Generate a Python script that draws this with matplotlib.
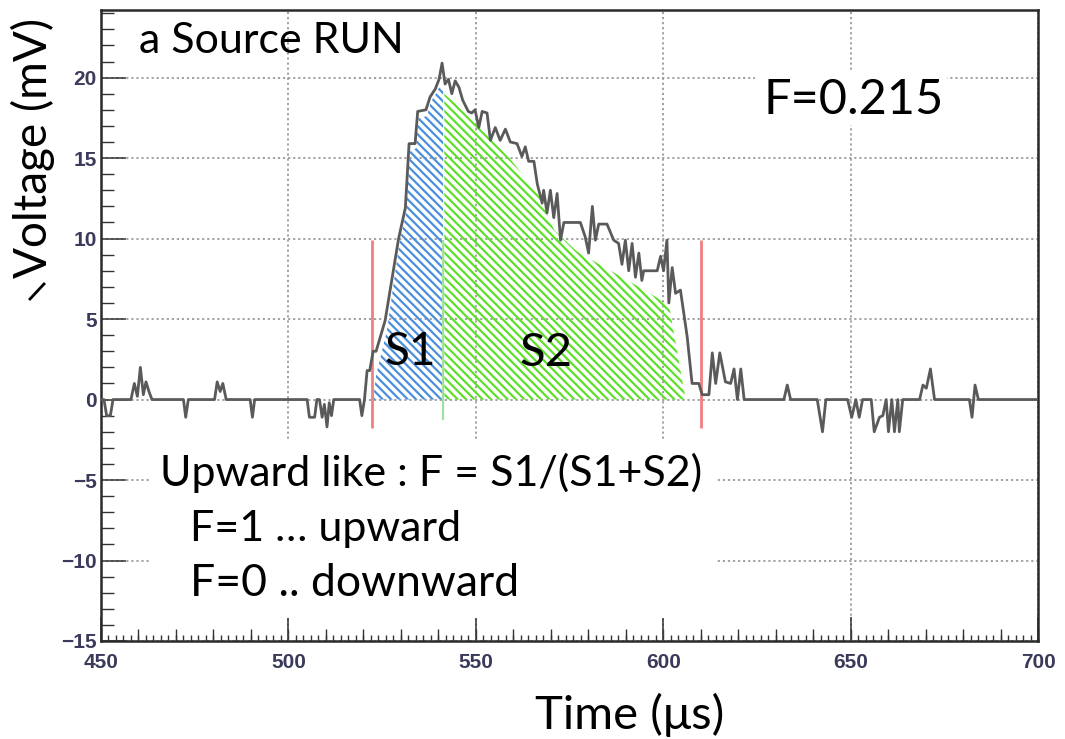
import matplotlib
matplotlib.use("Agg")
import matplotlib.pyplot as plt
from matplotlib.patches import Rectangle
from matplotlib.lines import Line2D
from matplotlib.ticker import MultipleLocator

plt.rcParams['hatch.linewidth'] = 1.6

# waveform (time in us, voltage in mV)
tempo = [450.0, 450.8, 451.5, 452.5, 453.2, 458.0, 458.9, 459.7, 460.5, 461.3,
         462.0, 462.8, 463.6, 472.0, 472.6, 473.3, 480.3, 481.0, 481.8, 482.5,
         483.4, 489.8, 490.4, 491.0, 505.0, 505.6, 507.0, 507.6, 508.3, 509.0,
         509.6, 510.3, 510.9, 511.5, 512.1, 519.0, 519.6, 520.3, 521.0, 521.7,
         522.6, 523.4, 525.8, 529.4, 531.2, 532.2, 533.8, 534.5, 536.7, 537.8,
         539.2, 540.2, 541.0, 541.8, 542.7, 543.6, 544.5, 545.5, 546.5, 548.0,
         548.9, 549.8, 550.8, 551.7, 553.0, 553.9, 555.2, 556.5, 557.9, 559.2,
         561.0, 562.3, 563.2, 564.1, 565.5, 566.4, 567.7, 568.1, 569.0, 569.9,
         570.8, 571.7, 572.6, 573.5, 577.9, 579.2, 580.1, 581.1, 581.9, 582.8,
         585.0, 586.8, 588.1, 589.0, 589.9, 590.8, 591.7, 592.6, 593.5, 594.3,
         594.8, 598.4, 599.3, 600.1, 601.0, 601.5, 602.4, 603.3, 604.6, 606.4,
         607.7, 609.5, 610.4, 612.2, 613.1, 614.0, 615.1, 616.6, 618.0, 618.9,
         619.8, 620.7, 621.6, 632.2, 633.1, 634.0, 641.1, 642.5, 643.4, 649.2,
         650.3, 651.4, 652.3, 653.2, 655.5, 656.3, 657.7, 658.6, 659.5, 660.1,
         661.0, 661.7, 662.6, 663.0, 663.9, 668.4, 669.3, 670.2, 671.3, 672.4,
         681.7, 682.4, 683.2, 684.1, 700.0]
tensao = [0, 0, -1.0, -1.0, 0, 0, 1.0, 0.2, 2.0, 0.3,
          1.1, 0.5, 0, 0, -1.1, 0, 0, 1.1, 0.5, 1.0,
          0, 0, -1.1, 0, 0, -1.1, -1.1, 0, 0, -1.1,
          -0.3, -1.7, -0.2, -1.0, 0, 0, -1.0, 0, 1.8, 1.8,
          3.0, 3.0, 4.9, 10.0, 11.9, 15.9, 15.9, 17.9, 18.0, 18.8,
          19.3, 19.9, 20.9, 19.6, 19.9, 19.0, 19.8, 19.4, 18.6, 17.9,
          17.8, 18.0, 16.9, 17.9, 17.8, 16.1, 16.9, 16.1, 16.8, 16.0,
          15.9, 15.1, 15.7, 14.8, 14.8, 13.4, 12.2, 13.0, 11.6, 13.0,
          11.3, 12.8, 9.9, 11.0, 11.0, 10.1, 9.1, 12.0, 9.9, 10.9,
          10.9, 9.9, 9.7, 8.4, 9.9, 8.0, 9.7, 7.6, 9.1, 7.4,
          8.0, 8.0, 8.9, 8.0, 9.9, 6.0, 8.2, 6.6, 6.8, 3.9,
          1.0, 1.0, 0.3, 0.3, 2.9, 1.0, 2.9, 1.1, 1.0, 1.9,
          0, 1.9, 0, 0, 0.9, 0, 0, -2.0, 0, 0,
          -1.1, 0, -1.1, 0, 0, -2.0, -1.1, -1.0, 0, -2.0,
          0, -2.0, 0, -2.0, 0, 0, 0.9, 0.7, 1.9, 0,
          0, -1.1, 0.9, 0, 0]

# hatched areas S1 and S2
s1_t = [522.6, 523.4, 526.3, 529.6, 531.4, 532.4, 534.0, 534.7, 537.0, 538.0, 539.4, 540.4, 541.3]
s1_v = [0, 1.5, 4.3, 9.7, 11.6, 15.4, 15.6, 17.5, 17.6, 18.5, 19.0, 19.5, 19.3]
s2_t = [541.6, 544.5, 559.0, 566.5, 571.0, 577.0, 583.0, 592.0, 601.5, 606.0]
s2_v = [19.0, 18.4, 15.0, 12.8, 10.5, 9.2, 8.4, 7.2, 5.9, 0.0]

# integration limits
limites = [522.3, 610.1]
divisao = 541.3

fig = plt.figure(figsize=(10.65, 7.39), dpi=100)
ax = fig.add_axes([101/1065, 1 - 641/739, (1038-101)/1065, (641-10)/739])

ax.fill_between(s1_t, 0, s1_v, facecolor='none', edgecolor='#4a90dc', hatch='\\\\\\\\', linewidth=0, zorder=2)
ax.fill_between(s2_t, 0, s2_v, facecolor='none', edgecolor='#5ee02a', hatch='\\\\\\\\', linewidth=0, zorder=2)

ax.vlines(limites, -1.75, 9.9, color='#f08080', linewidth=2, zorder=3)
ax.vlines([divisao], -1.3, 9.9, color='#9ee09e', linewidth=1.6, zorder=3)

ax.plot(tempo, tensao, color='#5a5a5a', linewidth=2.0, zorder=4)

ax.set_xlim(450, 700)
ax.set_ylim(-15, 24.2)
ax.xaxis.set_major_locator(MultipleLocator(50))
ax.xaxis.set_minor_locator(MultipleLocator(2))
ax.yaxis.set_major_locator(MultipleLocator(5))
ax.yaxis.set_minor_locator(MultipleLocator(1))
ax.tick_params(which='major', direction='in', length=17, width=1.1, color='#333333',
               labelsize=15, labelcolor='#3a3a5a', pad=9)
ax.tick_params(which='minor', direction='in', length=4.5, width=1.0, color='#333333')
ax.tick_params(axis='y', which='major', length=18, pad=3)
ax.tick_params(axis='y', which='minor', length=9)
for lab in ax.get_xticklabels() + ax.get_yticklabels():
    lab.set_family('Liberation Sans')
    lab.set_weight('bold')

# ticks a cada 10 us
sec = ax.secondary_xaxis('bottom')
sec.xaxis.set_major_locator(MultipleLocator(10))
sec.tick_params(direction='in', length=9, width=1.0, color='#333333', labelbottom=False)
sec.spines['bottom'].set_visible(False)

for sp in ax.spines.values():
    sp.set_linewidth(1.8)
    sp.set_color('#2a2a2a')

ax.grid(True, which='major', color='#9a9a9a', linestyle=(0, (1.2, 1.6)), linewidth=1.3, zorder=0)
ax.set_axisbelow(True)

# caixas brancas atras dos textos
fig.add_artist(Rectangle((150/1065, 1 - 618/739), 565/1065, 178/739,
                         transform=fig.transFigure, facecolor='white', edgecolor='none', zorder=5))
fig.add_artist(Rectangle((755/1065, 1 - 125/739), 192/1065, 55/739,
                         transform=fig.transFigure, facecolor='white', edgecolor='none', zorder=5))

fonte = ['Lato', 'DejaVu Sans']
fig.text(139/1065, 1 - 53/739, "a Source RUN", family=fonte, fontsize=31, va='baseline', zorder=6)
fig.text(763/1065, 1 - 114/739, "F=0.215", family=fonte, fontsize=35, va='baseline', zorder=6)
fig.text(385/1065, 1 - 365/739, "S1", family=fonte, fontsize=33, va='baseline', zorder=6)
fig.text(519/1065, 1 - 366/739, "S2", family=fonte, fontsize=34, va='baseline', zorder=6)
fig.text(160/1065, 1 - 486/739, "Upward like : F = S1/(S1+S2)", family=fonte, fontsize=31, va='baseline', zorder=6)
fig.text(190/1065, 1 - 541/739, "F=1 \u2026 upward", family=fonte, fontsize=31, va='baseline', zorder=6)
fig.text(190/1065, 1 - 596/739, "F=0 .. downward", family=fonte, fontsize=32, va='baseline', zorder=6)
fig.text(630/1065, 1 - 715/739, "Time (\u03bcs)", family=fonte, fontsize=34, ha='center', va='center', zorder=6)
fig.text(33/1065, 1 - 148/739, "Voltage (mV)", family=fonte, fontsize=33, rotation=90,
         ha='center', va='center', zorder=6)

# marca no canto esquerdo
fig.add_artist(Line2D([30/1065, 44/1065], [1 - 299/739, 1 - 284/739], color='black', linewidth=2))

fig.savefig("out.png", dpi=100)
